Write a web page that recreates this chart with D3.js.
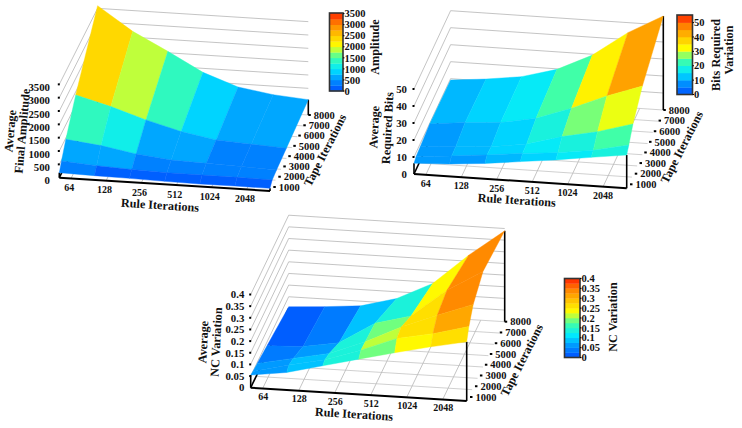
<!DOCTYPE html>
<html>
<head>
<meta charset="utf-8">
<script src="https://cdn.jsdelivr.net/npm/d3@7"></script>
<style>
  html, body { margin: 0; padding: 0; background: #fff; }
  text { font-family: "Liberation Serif", serif; font-weight: bold; fill: #111; }
</style>
</head>
<body>
<script>
// axis labels
var ruleTicks = [64, 128, 256, 512, 1024, 2048];
var tapeTicks = [1000, 2000, 3000, 4000, 5000, 6000, 7000, 8000];
var ampTicks = [0, 500, 1000, 1500, 2000, 2500, 3000, 3500];
var bitsTicks = [0, 10, 20, 30, 40, 50];
var ncTicks = [0, 0.05, 0.1, 0.15, 0.2, 0.25, 0.3, 0.35, 0.4];

// surface grid
var ruleEdges = [50.8, 101.6, 203.2, 406.4, 812.7, 1625.5, 3251];
var tapeRows = [1000, 1400, 2200, 4000, 8000];

var ampValues = [
  [188, 159, 141, 113, 96, 104, 100],
  [463, 371, 313, 275, 271, 266, 250],
  [950, 798, 568, 425, 385, 343, 301],
  [1884, 1529, 1112, 759, 529, 450, 384],
  [3600, 2720, 2054, 1350, 884, 679, 575]
];
var bitsValues = [
  [6.3, 7.3, 9, 11.5, 13.9, 16.8, 19.6],
  [7.6, 9.4, 11.4, 13.7, 15.5, 18.4, 22.8],
  [8.2, 9.6, 11, 13.9, 19.7, 24, 30],
  [9.7, 11.9, 13.3, 17.2, 24.5, 33.2, 40.4],
  [9.2, 11.2, 14, 19.7, 29.5, 44.1, 55.3]
];
var ncValues = [
  [0.054, 0.075, 0.113, 0.151, 0.188, 0.223, 0.254],
  [0.05, 0.087, 0.12, 0.17, 0.23, 0.26, 0.3],
  [0.046, 0.077, 0.108, 0.167, 0.24, 0.3, 0.356],
  [0.034, 0.04, 0.066, 0.159, 0.2, 0.32, 0.41],
  [0.007, 0.017, 0.03, 0.071, 0.145, 0.276, 0.39]
];

// rainbow legend colours, as fractions of the legend range
var colorStops = [0, 0.14, 0.28, 0.43, 0.52, 0.58, 0.71, 0.857, 1];
var colorRange = ["#0050ff", "#0090ff", "#00e8ff", "#40ffa8", "#b0ff48", "#ffff00", "#ffc800", "#ff8400", "#ff2000"];
var rainbow = d3.scaleLinear().domain(colorStops).range(colorRange);

var w = 742;
var h = 428;

var svg = d3.select("body")
  .append("svg")
  .attr("width", w)
  .attr("height", h)
  .style("display", "block");

var rule = d3.scaleLog().base(2).domain([ruleEdges[0], ruleEdges[6]]).range([0, 1]);
var tape = d3.scaleLinear().domain([1000, 8000]).range([0, 1]);
var line = d3.line();

function drawPanel(p) {
  var g = svg.append("g");
  var z = d3.scaleLinear().domain([0, 1]).range([0, p.zPx]);

  // affine projection of the box
  var project = function(r, t, val) {
    var u = rule(r), v = tape(t);
    return [
      p.fl[0] + u * (p.fr[0] - p.fl[0]) + v * (p.br[0] - p.fr[0]),
      p.fl[1] + u * (p.fr[1] - p.fl[1]) + v * (p.br[1] - p.fr[1]) - z(val)
    ];
  };
  var rMin = ruleEdges[0], rMax = ruleEdges[6];
  var gridLine = function(pts, color, width) {
    g.append("path").attr("d", line(pts)).attr("fill", "none")
      .attr("stroke", color).attr("stroke-width", width);
  };

  // floor grid
  ruleTicks.forEach(function(r) {
    gridLine([project(r, 1000, 0), project(r, 8000, 0)], "#aaa", 0.7);
  });
  tapeTicks.forEach(function(t) {
    if (t == 1000) return;
    gridLine([project(rMin, t, 0), project(rMax, t, 0)], "#bbb", 0.7);
  });
  // left and back walls
  p.zTicks.forEach(function(val) {
    if (val == 0) return;
    gridLine([project(rMin, 1000, val), project(rMin, 8000, val), project(rMax, 8000, val)], "#aaa", 0.7);
  });

  // black edges, up to the surface corners
  var last = p.values.length - 1;
  gridLine([project(rMin, 1000, 0), project(rMin, 1000, p.values[0][0])], "#000", 1.6);
  gridLine([project(rMax, 1000, 0), project(rMax, 1000, p.values[0][6])], "#000", 1.6);
  gridLine([project(rMax, 8000, 0), project(rMax, 8000, p.values[last][6])], "#000", 1.6);
  gridLine([project(rMin, 1000, 0), project(rMin, 8000, 0)], "#000", 1.6);
  gridLine([project(rMin, 1000, 0), project(rMax, 1000, 0)], "#000", 2);

  // surface cells, back row first
  for (var j = last - 1; j >= 0; j--) {
    for (var i = 0; i < 6; i++) {
      var a = p.values[j][i], b = p.values[j][i + 1], c = p.values[j + 1][i + 1], d = p.values[j + 1][i];
      var mean = (a + b + c + d) / 4;
      var color = p.color(Math.floor(mean / p.band) * p.band + p.band / 2);
      g.append("path")
        .attr("d", line([
          project(ruleEdges[i], tapeRows[j], a),
          project(ruleEdges[i + 1], tapeRows[j], b),
          project(ruleEdges[i + 1], tapeRows[j + 1], c),
          project(ruleEdges[i], tapeRows[j + 1], d)
        ]) + "Z")
        .attr("fill", color)
        .attr("stroke", color)
        .attr("stroke-width", 0.4);
    }
  }

  // z ticks
  p.zTicks.forEach(function(val) {
    var q = project(rMin, 1000, val);
    if (val != 0) gridLine([[q[0] - 1.5, q[1]], [q[0] + 0.5, q[1]]], "#000", 2);
    g.append("text")
      .attr("x", p.zLabel[0])
      .attr("y", q[1] + p.zLabel[1])
      .attr("dy", "0.35em")
      .attr("text-anchor", "end")
      .attr("font-size", 10.8)
      .text(val);
  });

  // rule ticks
  ruleTicks.forEach(function(r) {
    var q = project(r, 1000, 0);
    g.append("text")
      .attr("x", q[0] + p.ruleLabel[0])
      .attr("y", q[1] + p.ruleLabel[1])
      .attr("dy", "0.35em")
      .attr("text-anchor", "middle")
      .attr("font-size", 10)
      .text(r);
  });

  // tape ticks
  tapeTicks.forEach(function(t) {
    var q = project(rMax, t, 0);
    var v = 1 - tape(t);
    var x = q[0] + 3.3 * v, y = q[1] - 4 * v;
    gridLine([[x, y], [x + 2.5, y]], "#000", 2);
    g.append("text")
      .attr("x", x + 5.5)
      .attr("y", y)
      .attr("dy", "0.35em")
      .attr("font-size", 10.5)
      .text(t);
  });

  // axis titles
  p.titles.forEach(function(t) {
    g.append("text")
      .attr("transform", "translate(" + t.x + "," + t.y + ") rotate(" + t.rot + ")")
      .attr("text-anchor", "middle")
      .attr("dy", "0.35em")
      .attr("font-size", 12.2)
      .text(t.text);
  });

  // legend
  var b = p.bar;
  var barY = d3.scaleLinear().domain([0, p.bar.max]).range([b.y1, b.y0]);
  d3.range(0, b.max, p.barBand).forEach(function(lo) {
    var hi = Math.min(lo + p.barBand, b.max);
    g.append("rect")
      .attr("x", b.x0)
      .attr("y", barY(hi))
      .attr("width", b.x1 - b.x0)
      .attr("height", barY(lo) - barY(hi) + 0.3)
      .attr("fill", p.color((lo + hi) / 2));
  });
  g.append("rect")
    .attr("x", b.x0)
    .attr("y", b.y0)
    .attr("width", b.x1 - b.x0)
    .attr("height", b.y1 - b.y0)
    .attr("fill", "none")
    .attr("stroke", "#333")
    .attr("stroke-width", 1.6);
  p.zTicks.forEach(function(val) {
    gridLine([[b.x1, barY(val)], [b.x1 + 1.5, barY(val)]], "#000", 1);
    g.append("text")
      .attr("x", b.x1 + 1.5)
      .attr("y", barY(val))
      .attr("dy", "0.35em")
      .attr("font-size", 10.5)
      .text(val);
  });
}

drawPanel({
  fl: [59.3, 177.7], fr: [270, 191], br: [308.3, 115],
  zPx: 0.02667, values: ampValues, zTicks: ampTicks, band: 250, barBand: 250,
  color: function(v) { return rainbow(v / 3530); },
  zLabel: [50, 3], ruleLabel: [-1.7, 9.3],
  bar: { x0: 329.5, x1: 343, y0: 13, y1: 91, max: 3530 },
  titles: [
    { text: "Average", x: 10, y: 131, rot: -85 },
    { text: "Final Amplitude", x: 22, y: 131, rot: -85 },
    { text: "Rule Iterations", x: 160, y: 205, rot: 3.6 },
    { text: "Tape Iterations", x: 325, y: 150, rot: -63 },
    { text: "Amplitude", x: 375, y: 47, rot: -90 }
  ]
});

drawPanel({
  fl: [414, 174], fr: [626.7, 188.3], br: [663.3, 110],
  zPx: 1.7, values: bitsValues, zTicks: bitsTicks, band: 2.5, barBand: 5,
  color: function(v) { return rainbow(v / 55.3); },
  zLabel: [407, 0], ruleLabel: [0, 8.5],
  bar: { x0: 677, x1: 692.5, y0: 15, y1: 94.5, max: 55.3 },
  titles: [
    { text: "Average", x: 374, y: 127, rot: -87 },
    { text: "Required Bits", x: 387.3, y: 128, rot: -87 },
    { text: "Rule Iterations", x: 516.7, y: 200, rot: 3.6 },
    { text: "Tape Iterations", x: 681.7, y: 147, rot: -63 },
    { text: "Bits Required", x: 715.7, y: 55, rot: -90 },
    { text: "Variation", x: 729, y: 50, rot: -90 }
  ]
});

drawPanel({
  fl: [250.7, 387.7], fr: [466.7, 401], br: [504.7, 321.7],
  zPx: 233, values: ncValues, zTicks: ncTicks, band: 0.025, barBand: 0.025,
  color: function(v) { return rainbow(v / 0.4); },
  zLabel: [244.3, 0], ruleLabel: [0.6, 8.3],
  bar: { x0: 564.5, x1: 580, y0: 278.5, y1: 357.5, max: 0.4 },
  titles: [
    { text: "Average", x: 203, y: 342, rot: -87 },
    { text: "NC Variation", x: 216, y: 342, rot: -87 },
    { text: "Rule Iterations", x: 354, y: 414, rot: 3.6 },
    { text: "Tape Iterations", x: 521.7, y: 360, rot: -63 },
    { text: "NC Variation", x: 612.7, y: 317, rot: -90 }
  ]
});
</script>
</body>
</html>
